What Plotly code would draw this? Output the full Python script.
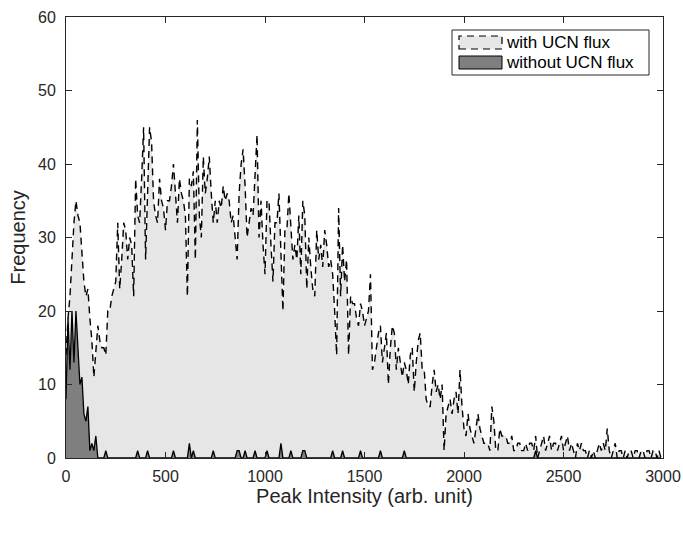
import plotly.graph_objects as go

# Bin starts (arb. unit), 10-unit bins from 0 to 2990
bin_width = 10
n_bins = 300

with_ucn = [
    14, 19, 22, 27, 32, 35, 33, 32, 28, 24,
    22, 23, 19, 16, 11, 15, 18, 16, 15, 15,
    14, 20, 20, 22, 23, 24, 32, 23, 27, 32,
    31, 27, 30, 29, 22, 38, 33, 32, 38, 45,
    27, 38, 45, 43, 35, 33, 32, 38, 35, 34,
    31, 35, 35, 37, 40, 36, 32, 38, 36, 35,
    33, 22, 38, 37, 39, 27, 46, 33, 30, 41,
    36, 38, 41, 36, 32, 35, 32, 35, 34, 37,
    35, 36, 35, 32, 33, 30, 27, 36, 40, 42,
    37, 30, 32, 34, 33, 38, 44, 30, 35, 29,
    25, 35, 35, 29, 24, 32, 32, 36, 28, 20,
    31, 31, 36, 31, 27, 29, 27, 33, 25, 35,
    33, 23, 30, 26, 23, 22, 31, 27, 29, 26,
    31, 29, 26, 27, 25, 20, 14, 34, 22, 29,
    24, 27, 14, 22, 21, 21, 19, 18, 21, 20,
    18, 19, 20, 25, 12, 13, 15, 17, 18, 13,
    15, 17, 10, 15, 18, 17, 12, 15, 13, 11,
    13, 12, 10, 14, 15, 9, 13, 16, 17, 12,
    12, 8, 7, 7, 10, 12, 9, 10, 8, 10,
    1, 6, 7, 8, 6, 8, 9, 6, 12, 7,
    4, 3, 6, 4, 3, 2, 4, 6, 4, 3,
    2, 2, 2, 1, 7, 5, 1, 1, 4, 3,
    3, 3, 2, 2, 3, 1, 1, 2, 2, 1,
    1, 2, 1, 2, 2, 1, 3, 0, 1, 2,
    3, 1, 2, 3, 1, 2, 2, 1, 2, 3,
    1, 2, 3, 1, 2, 1, 0, 2, 1, 2,
    1, 1, 0, 1, 0, 1, 0, 1, 2, 1,
    2, 1, 4, 1, 0, 1, 2, 0, 1, 1,
    0, 1, 0, 1, 1, 0, 1, 1, 0, 1,
    1, 0, 1, 1, 0, 1, 1, 0, 1, 0,
]

without_ucn = [
    8, 19, 12, 20, 13, 20, 15, 10, 11, 6, 5, 7, 1, 2, 1, 3, 0, 0, 0, 0,
    1, 0, 0, 0, 0, 0, 0, 0, 0, 0, 0, 0, 0, 0, 0, 0, 1, 0, 0, 0,
    0, 1, 0, 0, 0, 0, 0, 0, 0, 0, 0, 0, 0, 0, 1, 0, 0, 0, 0, 0,
    0, 0, 2, 0, 1, 0, 0, 0, 0, 0, 0, 0, 0, 0, 1, 0, 0, 0, 0, 0,
    0, 0, 0, 0, 0, 0, 1, 1, 0, 0, 1, 0, 0, 0, 0, 1, 0, 0, 0, 0,
    0, 1, 0, 0, 0, 0, 0, 0, 2, 0, 0, 0, 0, 1, 0, 0, 0, 0, 0, 1,
    1, 0, 0, 0, 0, 0, 0, 0, 0, 0, 0, 0, 0, 0, 1, 0, 0, 0, 0, 1,
    0, 0, 0, 0, 0, 0, 0, 0, 1, 0, 0, 0, 0, 0, 0, 0, 0, 0, 1, 0,
    0, 0, 0, 0, 0, 0, 0, 0, 0, 0, 1, 0, 0, 0, 0, 0, 0, 0, 0, 0,
    0, 0, 0, 0, 0, 0, 0, 0, 0, 0, 0, 0, 0, 0, 0, 0, 0, 0, 0, 0,
    0, 0, 0, 0, 0, 0, 0, 0, 0, 0, 0, 0, 0, 0, 0, 0, 0, 0, 0, 0,
    0, 0, 0, 0, 0, 0, 0, 0, 0, 0, 0, 0, 0, 0, 0, 0, 1, 0, 0, 0,
    0, 0, 0, 0, 0, 0, 0, 0, 0, 0, 0, 0, 0, 0, 0, 0, 0, 0, 0, 0,
    0, 0, 0, 0, 0, 0, 0, 0, 0, 0, 0, 0, 0, 0, 0, 0, 0, 0, 0, 0,
    0, 0, 0, 0, 0, 0, 0, 0, 0, 0, 0, 0, 0, 0, 0, 0, 0, 0, 0, 0,
]

x_ticks = [0, 500, 1000, 1500, 2000, 2500, 3000]
y_ticks = [0, 10, 20, 30, 40, 50, 60]
legend_labels = ['with UCN flux', 'without UCN flux']

bins = [i * bin_width for i in range(n_bins)]

AX = '#262626'
FONT = 'Liberation Sans, Arial, Helvetica, sans-serif'
LIGHT = '#e6e6e6'
DARK = '#7f7f7f'

W, H = 683, 539
ML, MR, MT, MB = 66, 20, 17, 81
PW, PH = W - ML - MR, H - MT - MB


def px(xp):
    return (xp - ML) / PW


def py(yp):
    return (H - MB - yp) / PH


fig = go.Figure()
fig.add_trace(go.Scatter(
    x=bins, y=with_ucn, mode='lines', name=legend_labels[0],
    fill='tozeroy', fillcolor=LIGHT,
    line=dict(color='black', width=1.4, dash='7px,5px'),
    showlegend=False, hoverinfo='skip',
))
fig.add_trace(go.Scatter(
    x=bins, y=without_ucn, mode='lines', name=legend_labels[1],
    fill='tozeroy', fillcolor=DARK,
    line=dict(color='black', width=1.3),
    showlegend=False, hoverinfo='skip',
))

axis_common = dict(
    showline=True, linecolor=AX, linewidth=1, mirror='ticks',
    ticks='inside', ticklen=6, tickcolor=AX, tickwidth=1,
    showgrid=False, zeroline=False,
    tickfont=dict(family=FONT, size=16, color=AX),
    ticklabeloverflow='allow',
)

# MATLAB-style legend box drawn in paper coordinates
shapes = [
    dict(type='rect', xref='paper', yref='paper',
         x0=px(452), x1=px(649), y0=py(75), y1=py(30),
         fillcolor='white', line=dict(color=AX, width=1)),
    dict(type='rect', xref='paper', yref='paper',
         x0=px(459), x1=px(502), y0=py(49), y1=py(36),
         fillcolor=LIGHT, line=dict(color='black', width=1.2, dash='7px,5px')),
    dict(type='rect', xref='paper', yref='paper',
         x0=px(459), x1=px(502), y0=py(69), y1=py(56),
         fillcolor=DARK, line=dict(color='black', width=1)),
]
annotations = [
    dict(xref='paper', yref='paper', x=px(504), y=py(42.5), text=legend_labels[0],
         showarrow=False, xanchor='left', yanchor='middle',
         font=dict(family=FONT, size=17, color='black')),
    dict(xref='paper', yref='paper', x=px(504), y=py(62.5), text=legend_labels[1],
         showarrow=False, xanchor='left', yanchor='middle',
         font=dict(family=FONT, size=17, color='black')),
]

fig.update_layout(
    width=W, height=H,
    margin=dict(l=ML, r=MR, t=MT, b=MB, autoexpand=False),
    plot_bgcolor='white', paper_bgcolor='white',
    font=dict(family=FONT, size=16, color=AX),
    showlegend=False,
    shapes=shapes,
    annotations=annotations,
    xaxis=dict(
        range=[0, 3000], tickvals=x_ticks, ticklabelstandoff=4,
        automargin='height',
        title=dict(text='Peak Intensity (arb. unit)', font=dict(family=FONT, size=20, color=AX), standoff=3),
        **axis_common,
    ),
    yaxis=dict(
        range=[0, 60], tickvals=y_ticks, ticklabelstandoff=6,
        title=dict(text='Frequency', font=dict(family=FONT, size=20, color=AX), standoff=7),
        **axis_common,
    ),
)

fig.write_html(
    'out.html',
    config={'displayModeBar': False, 'staticPlot': True},
    post_script="document.body.style.margin='0';document.body.style.overflow='hidden';",
)
